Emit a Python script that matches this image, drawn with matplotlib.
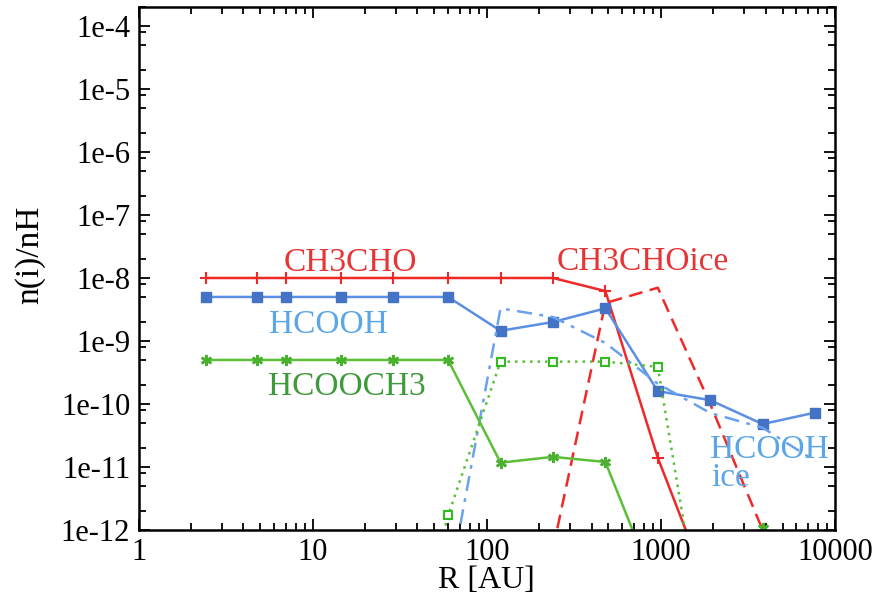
import numpy as np
import matplotlib
matplotlib.use("Agg")
import matplotlib.pyplot as plt
from matplotlib.ticker import LogLocator, FixedLocator, FuncFormatter, NullFormatter

nan = np.nan

# radii of the model grid [AU]
R = [2.45, 4.8, 7.0, 14.5, 29, 60, 120, 240, 480, 960, 1920, 3840, 7680]

# abundances n(i)/nH (nan = far below the plotted range)
ch3cho = [1e-8, 1e-8, 1e-8, 1e-8, 1e-8, 1e-8, 1e-8, 1e-8, 6.2e-9, 1.4e-11, 1e-13, nan, nan]
ch3cho_ice = [nan, nan, nan, nan, nan, nan, nan, 5e-13, 4e-9, 7e-9, 1e-10, 1e-12, nan]
hcooh = [5e-9, 5e-9, 5e-9, 5e-9, 5e-9, 5e-9, 1.45e-9, 2.0e-9, 3.3e-9, 1.6e-10, 1.15e-10, 4.8e-11, 7.3e-11]
hcooh_ice = [nan, nan, nan, nan, nan, 1.1e-13, 3.3e-9, 2.4e-9, 9.3e-10, 2.1e-10, 7.2e-11, 4.2e-11, 1.25e-11]
hcooch3 = [5e-10, 5e-10, 5e-10, 5e-10, 5e-10, 5e-10, 1.17e-11, 1.45e-11, 1.2e-11, 1e-13, nan, 1.08e-12, nan]
hcooch3_ice = [nan, nan, nan, nan, 1e-15, 1.7e-12, 4.7e-10, 4.7e-10, 4.7e-10, 3.9e-10, 4e-15, nan, nan]

x_ticks = [1, 10, 100, 1000, 10000]
x_ticklabels = ["1", "10", "100", "1000", "10000"]
y_ticks = [1e-12, 1e-11, 1e-10, 1e-9, 1e-8, 1e-7, 1e-6, 1e-5, 1e-4]

RED = "#f02828"
BLUE = "#5a8fe4"
BLUE_MK = "#4472c4"
BLUE_ICE = "#6aa2ee"
GREEN = "#5cbf38"

plt.rcParams["font.family"] = ["Liberation Serif", "DejaVu Serif"]

fig = plt.figure(figsize=(8.91, 5.97), dpi=100)
ax = fig.add_axes([138.5 / 891, 1 - 530 / 597, (835 - 138.5) / 891, (530 - 7) / 597])
ax.set_xscale("log")
ax.set_yscale("log")

ax.plot(R, ch3cho, color=RED, lw=1.8, marker="+", ms=8, mew=1.5)
ax.plot(R, ch3cho_ice, color=RED, lw=1.8, linestyle=(0, (5.5, 3)))
ax.plot(R, hcooh, color=BLUE, lw=1.8, marker="s", ms=7, mfc=BLUE_MK, mec=BLUE_MK)
ax.plot(R, hcooh_ice, color=BLUE_ICE, lw=1.8, linestyle=(0, (6, 3, 1.5, 3)))
ax.plot(R, hcooch3, color=GREEN, lw=1.8, marker=(6, 2, 0), ms=8, mew=1.8, mec="#4cb030")
ax.plot(R, hcooch3_ice, color=GREEN, lw=1.8, linestyle=(0, (1, 2)),
        marker="s", ms=6, mfc="white", mec="#33bb22", mew=1.5)

ax.set_xlim(1, 1e4)
ax.set_ylim(1e-12, 2e-4)

ax.xaxis.set_major_locator(FixedLocator(x_ticks))
ax.set_xticklabels(x_ticklabels)
ax.xaxis.set_minor_locator(LogLocator(base=10, subs=np.arange(2, 10)))
ax.xaxis.set_minor_formatter(NullFormatter())
ax.yaxis.set_major_locator(FixedLocator(y_ticks))
ax.yaxis.set_major_formatter(FuncFormatter(lambda v, p: "1e%d" % round(np.log10(v))))
ax.yaxis.set_minor_locator(LogLocator(base=10, subs=[2, 5, 8]))
ax.yaxis.set_minor_formatter(NullFormatter())

ax.tick_params(which="both", direction="in", top=True, right=True, width=1.3, labelsize=22)
ax.tick_params(which="major", length=8)
ax.tick_params(which="minor", length=5)
ax.tick_params(axis="y", pad=6)
ax.tick_params(axis="x", pad=6)
for s in ax.spines.values():
    s.set_linewidth(1.8)

ax.set_xlabel("R [AU]", fontsize=23, labelpad=-1)
ax.set_ylabel("n(i)/nH", fontsize=24)
ax.yaxis.set_label_coords(-0.134, 0.526)

# curve labels
ax.text(0.304, 0.511, "CH3CHO", color="#e53535", fontsize=24, ha="center", va="center", transform=ax.transAxes)
ax.text(0.272, 0.392, "HCOOH", color="#5aa6e6", fontsize=24, ha="center", va="center", transform=ax.transAxes)
ax.text(0.299, 0.273, "HCOOCH3", color="#3f9a3a", fontsize=24, ha="center", va="center", transform=ax.transAxes)
ax.text(0.724, 0.512, "CH3CHOice", color="#e53535", fontsize=24, ha="center", va="center", transform=ax.transAxes)
ax.text(0.820, 0.154, "HCOOH", color="#5aa6e6", fontsize=24, ha="left", va="center", transform=ax.transAxes)
ax.text(0.823, 0.100, "ice", color="#5aa6e6", fontsize=24, ha="left", va="center", transform=ax.transAxes)

fig.savefig("out.png", dpi=100)
